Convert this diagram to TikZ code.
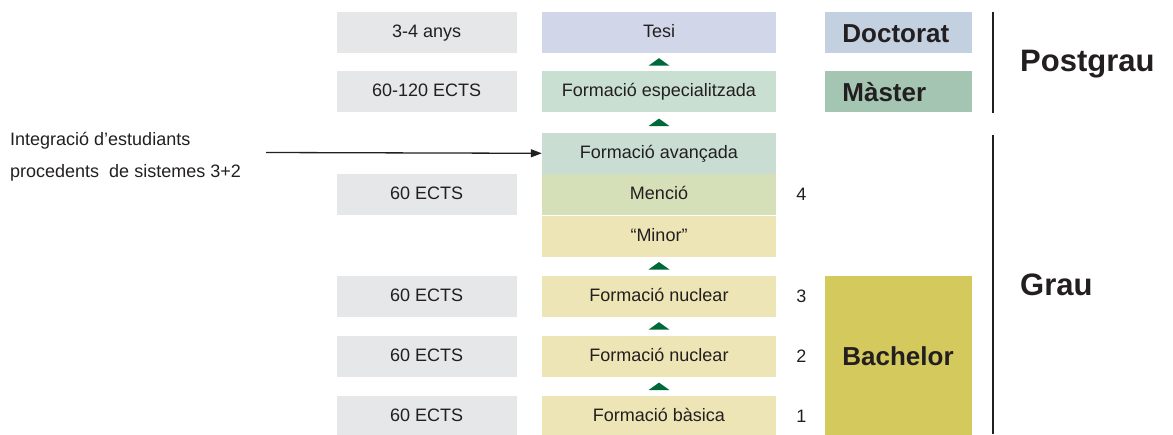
\documentclass[tikz,border=0pt]{standalone}
\usepackage{fontspec}
\setmainfont{Liberation Sans}
\usepackage{xcolor}
\usetikzlibrary{arrows.meta,positioning,calc}

\definecolor{ink}{HTML}{231F20}
\definecolor{credit}{HTML}{E6E7E8}
\definecolor{tesiC}{HTML}{D1D6E9}
\definecolor{especC}{HTML}{C9DFD1}
\definecolor{avancC}{HTML}{C9DDD3}
\definecolor{mencioC}{HTML}{D5E0B8}
\definecolor{grauC}{HTML}{EDE5B5}
\definecolor{doctC}{HTML}{C3D0E0}
\definecolor{mastC}{HTML}{A3C5B1}
\definecolor{bachC}{HTML}{D4C95D}
\definecolor{upgreen}{HTML}{00693A}

\newcommand\txtreg{\fontsize{18}{32}\selectfont}

\begin{document}
\begin{tikzpicture}[x=1pt, y=-1pt,
  cell/.style={rectangle, minimum height=41pt, inner sep=0pt, text height=10pt, text depth=0pt, text=ink, font=\txtreg},
  ects/.style={cell, fill=credit, minimum width=180pt},
  stage/.style={cell, minimum width=234pt},
  degree/.style={rectangle, text width=113pt, inner xsep=17pt, inner ysep=0pt, align=left,
    minimum height=41pt, text height=19pt, text depth=0pt, text=ink, font=\fontsize{26}{30}\selectfont\bfseries},
  level/.style={anchor=base west, inner sep=0pt, text=ink, font=\fontsize{31}{36}\selectfont\bfseries},
  year/.style={inner sep=0pt, text=ink, font=\txtreg},
  bar/.style={draw=ink, line width=2pt}
]
\useasboundingbox (0,0) rectangle (1173,434);

% central column
\node[stage, fill=tesiC] (tesi) at (659,32.5) {Tesi};
\node[stage, fill=especC, below=18pt of tesi] (espec) {Formació especialitzada};
\node[stage, fill=avancC, below=20pt of espec] (avanc) {Formació avançada};
\node[stage, fill=mencioC, below=0pt of avanc] (mencio) {Menció};
\node[stage, fill=grauC, below=0pt of mencio] (minor) {“Minor”};
\node[stage, fill=grauC, below=18.5pt of minor] (nucA) {Formació nuclear};
\node[stage, fill=grauC, below=19pt of nucA] (nucB) {Formació nuclear};
\node[stage, fill=grauC, below=19pt of nucB] (basica) {Formació bàsica};

% credits
\node[ects, left=25pt of tesi] (anys) {3-4 anys};
\node[ects, left=25pt of espec] (ectsM) {60-120 ECTS};
\node[ects, left=25pt of mencio] (ects4) {60 ECTS};
\node[ects, left=25pt of nucA] (ects3) {60 ECTS};
\node[ects, left=25pt of nucB] (ects2) {60 ECTS};
\node[ects, left=25pt of basica] (ects1) {60 ECTS};

% course years
\node[year, right=20pt of mencio] (y4) {4};
\node[year, right=20pt of nucA] (y3) {3};
\node[year, right=20pt of nucB] (y2) {2};
\node[year, right=20pt of basica] (y1) {1};

% degrees
\node[degree, fill=doctC, right=49pt of tesi] (doct) {Doctorat};
\node[degree, fill=mastC, right=49pt of espec] (mast) {Màster};
\node[degree, fill=bachC, anchor=north west, minimum height=161pt] (bach) at (doct.west |- nucA.north) {Bachelor};

% levels
\draw[bar] (993,12) coordinate (pgtop) -- (993,113) coordinate (pgbot);
\draw[bar] (993,135) coordinate (grtop) -- (993,434) coordinate (grbot);
\node[level] (post) at (1020,71) {Postgrau};
\node[level] (grau) at (1020,295) {Grau};

% steps up
\foreach \lo/\hi in {espec/tesi, avanc/espec, nucA/minor, nucB/nucA, basica/nucB}
  \fill[upgreen] ($(\lo.north)!.5!(\hi.south)$) ++(-10.5,3.5) -- ++(21,0) -- ++(-10.5,-7.5) -- cycle;

% students from 3+2
\node[anchor=west, align=left, inner sep=0pt, text=ink, font=\txtreg] (intro) at (10,157)
  {Integració d’estudiants\\procedents\ \ de sistemes 3+2};
\coordinate (src) at (266,152.5);
\draw[ink, line width=1.3pt, -{Triangle[length=11pt, width=8pt]}] (src) -- (avanc.west);

\end{tikzpicture}
\end{document}
